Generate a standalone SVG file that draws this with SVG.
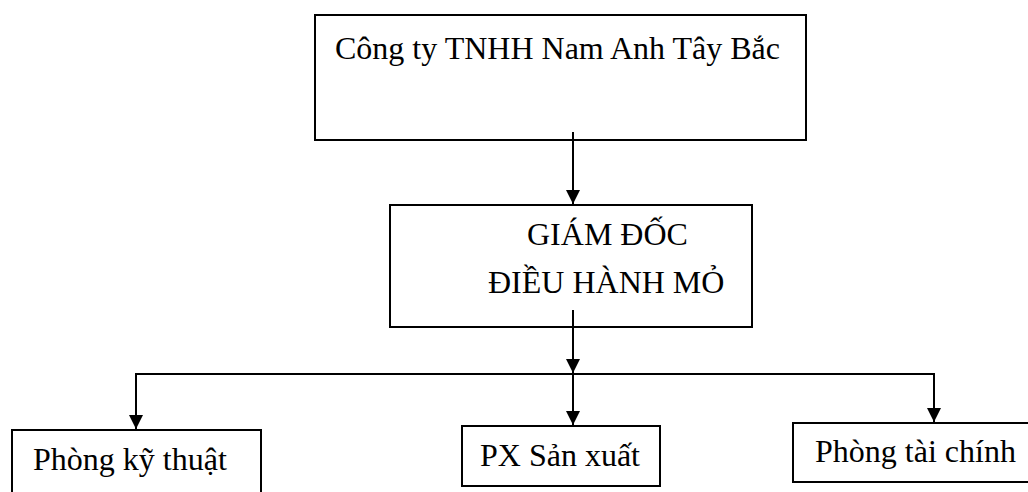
<svg xmlns="http://www.w3.org/2000/svg" width="1028" height="492" viewBox="0 0 1028 492">
<style>
.box{fill:#fff;stroke:#000;stroke-width:2}
.t{font-family:"Liberation Serif","Times New Roman",serif;font-size:32px;fill:#000}
.c{fill:none;stroke:#000;stroke-width:2}
</style>
<defs>
<marker id="ah" markerUnits="userSpaceOnUse" markerWidth="15" markerHeight="14" viewBox="0 0 15 14" refX="14" refY="7" orient="auto">
<path d="M0,0 L14,7 L0,14 Z" fill="#000"/>
</marker>
</defs>
<rect width="1028" height="492" fill="#fff"/>
<g id="company">
<rect class="box" x="315" y="15" width="491" height="125"/>
<text class="t" x="335" y="59">Công ty TNHH Nam Anh Tây Bắc</text>
</g>
<g id="director">
<rect class="box" x="390" y="205" width="362" height="122"/>
<text class="t" x="527" y="245">GIÁM ĐỐC</text>
<text class="t" x="488" y="293">ĐIỀU HÀNH MỎ</text>
</g>
<g id="kythuat">
<rect class="box" x="12" y="430" width="249" height="80"/>
<text class="t" x="33" y="470">Phòng kỹ thuật</text>
</g>
<g id="sanxuat">
<rect class="box" x="462" y="426" width="198" height="60"/>
<text class="t" x="480" y="466">PX Sản xuất</text>
</g>
<g id="taichinh">
<rect class="box" x="793" y="423" width="250" height="59"/>
<text class="t" x="815" y="462">Phòng tài chính</text>
</g>
<g id="connectors">
<path class="c" d="M573,132 V204" marker-end="url(#ah)"/>
<path class="c" d="M573,310 V373" marker-end="url(#ah)"/>
<path class="c" d="M136,374 H934"/>
<path class="c" d="M136,373 V429" marker-end="url(#ah)"/>
<path class="c" d="M934,373 V422" marker-end="url(#ah)"/>
<path class="c" d="M573,374 V425" marker-end="url(#ah)"/>
</g>
</svg>
